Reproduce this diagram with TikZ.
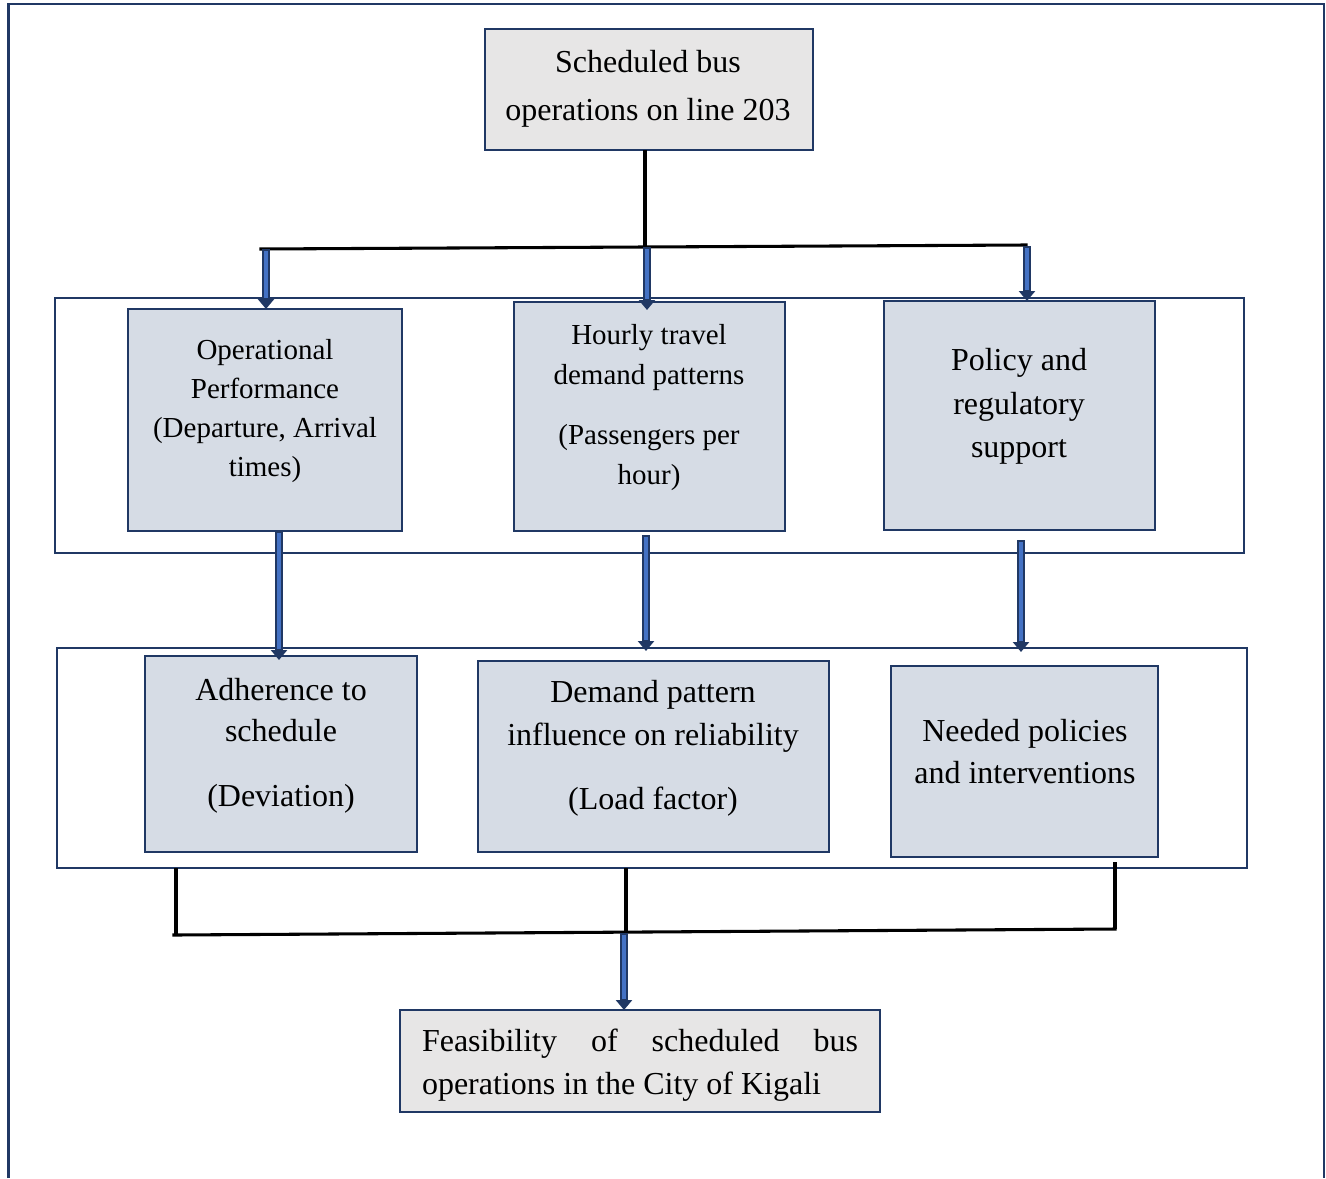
\documentclass[tikz,border=0pt]{standalone}
\usepackage{fontspec}
\setmainfont{Liberation Serif}
\usetikzlibrary{arrows.meta,calc}
\definecolor{navy}{HTML}{203864}
\definecolor{graybox}{HTML}{E7E6E6}
\definecolor{bluebox}{HTML}{D6DCE5}
\definecolor{arrowblue}{HTML}{4472C4}
\tikzset{
  frame/.style={draw=navy, line width=2pt},
  group/.style={draw=navy, line width=1.8pt, inner sep=0pt, outer sep=0pt},
  gbox/.style={draw=navy, fill=graybox, line width=1.5pt, inner sep=0pt, outer sep=0pt},
  bbox/.style={draw=navy, fill=bluebox, line width=1.5pt, inner sep=0pt, outer sep=0pt},
  txt/.style={align=center, inner sep=0pt},
  joinline/.style={draw=black, line width=2.3pt},
  arrowout/.style={draw=navy, line width=6pt, -{Triangle[width=12pt,length=7.5pt]}},
  arrowin/.style={draw=arrowblue, line width=2.6pt, shorten >=8pt, shorten <=1.5pt},
}
\newcommand\blockarrow[2]{\draw[arrowout] #1 -- #2; \draw[arrowin] #1 -- #2;}
\begin{document}
\begin{tikzpicture}[x=0.75pt,y=-0.75pt]
\useasboundingbox (0,0) rectangle (1326,1178);
% outer frame (open at bottom)
\draw[frame] (8.5,1178) -- (8.5,4) -- (1324,4) -- (1324,1178);

% boxes
\node[gbox, minimum width=246pt, minimum height=90.75pt] (top) at (649,89.5) {};
\node[group, minimum width=891.75pt, minimum height=191.25pt] (G1) at (649.5,425.5) {};
\node[bbox, minimum width=205.5pt, minimum height=166.5pt] (A) at (265,420) {};
\node[bbox, minimum width=203.25pt, minimum height=171.75pt] (B) at (649.5,416.5) {};
\node[bbox, minimum width=203.25pt, minimum height=171.75pt] (C) at (1019.5,415.5) {};
\node[group, minimum width=892.5pt, minimum height=165pt] (G2) at (652,758) {};
\node[bbox, minimum width=204pt, minimum height=147pt] (D) at (281,754) {};
\node[bbox, minimum width=263.25pt, minimum height=143.25pt] (E) at (653.5,756.5) {};
\node[bbox, minimum width=200.25pt, minimum height=143.25pt] (F) at (1024.5,761.5) {};
\node[gbox, minimum width=360pt, minimum height=76.5pt] (bot) at (640,1061) {};

% texts
\node[txt, font=\fontsize{24}{36}\selectfont] (topT) at (648,89) {Scheduled bus\\operations on line 203};
\node[txt, font=\fontsize{21.75}{29.25}\selectfont] (AT) at (265,411.5) {Operational\\Performance\\(Departure, Arrival\\times)};
\node[txt, font=\fontsize{21.75}{30}\selectfont] (BT) at (649,407.5) {Hourly travel\\demand patterns\\[15pt](Passengers per\\hour)};
\node[txt, font=\fontsize{24}{32.6}\selectfont] (CT) at (1019,406.5) {Policy and\\regulatory\\support};
\node[txt, font=\fontsize{24}{30.75}\selectfont] (DT) at (281,746) {Adherence to\\schedule\\[18pt](Deviation)};
\node[txt, font=\fontsize{24}{32.25}\selectfont] (ET) at (653,748.5) {Demand pattern\\influence on reliability\\[15.75pt](Load factor)};
\node[txt, font=\fontsize{24}{31.5}\selectfont] (FT) at (1025,752) {Needed policies\\and interventions};
\node[txt, align=left, font=\fontsize{24}{32.25}\selectfont] (botT) at (640,1065.5) {\makebox[327pt][s]{Feasibility of scheduled bus}\\operations in the City of Kigali};

% top connectors
\coordinate (j1) at (645,247);
\coordinate (hl) at (261,249);
\coordinate (hr) at (1026,245);
\draw[joinline] (top.south -| j1) -- (j1);
\draw[joinline, line cap=rect] (hl) -- (hr);
\coordinate (a1) at (266,249);
\coordinate (a2) at (647,247);
\coordinate (a3) at (1027,246);
\blockarrow{(a1)}{(A.north -| a1)}
\blockarrow{(a2)}{($(B.north -| a2)+(0,8)$)}
\blockarrow{(a3)}{(C.north -| a3)}

% middle arrows
\coordinate (m1) at (279,531);
\coordinate (m2) at (646,535);
\coordinate (m3) at (1021,540);
\blockarrow{(m1)}{($(D.north -| m1)+(0,4)$)}
\blockarrow{(m2)}{($(G2.north -| m2)+(0,3)$)}
\blockarrow{(m3)}{($(G2.north -| m3)+(0,4)$)}

% bottom connectors
\coordinate (b1) at (176,868);
\coordinate (b2) at (626,868);
\coordinate (b3) at (1115,862);
\coordinate (bl) at (174,935);
\coordinate (bm) at (626,933);
\coordinate (br) at (1115,929);
\draw[joinline] (b1) -- (b1 |- bl);
\draw[joinline] (b2) -- (bm);
\draw[joinline] (b3) -- (br);
\draw[joinline, line cap=rect] (bl) -- (br);
\coordinate (c1) at (624,933);
\blockarrow{(c1)}{(bot.north -| c1)}
\end{tikzpicture}
\end{document}
